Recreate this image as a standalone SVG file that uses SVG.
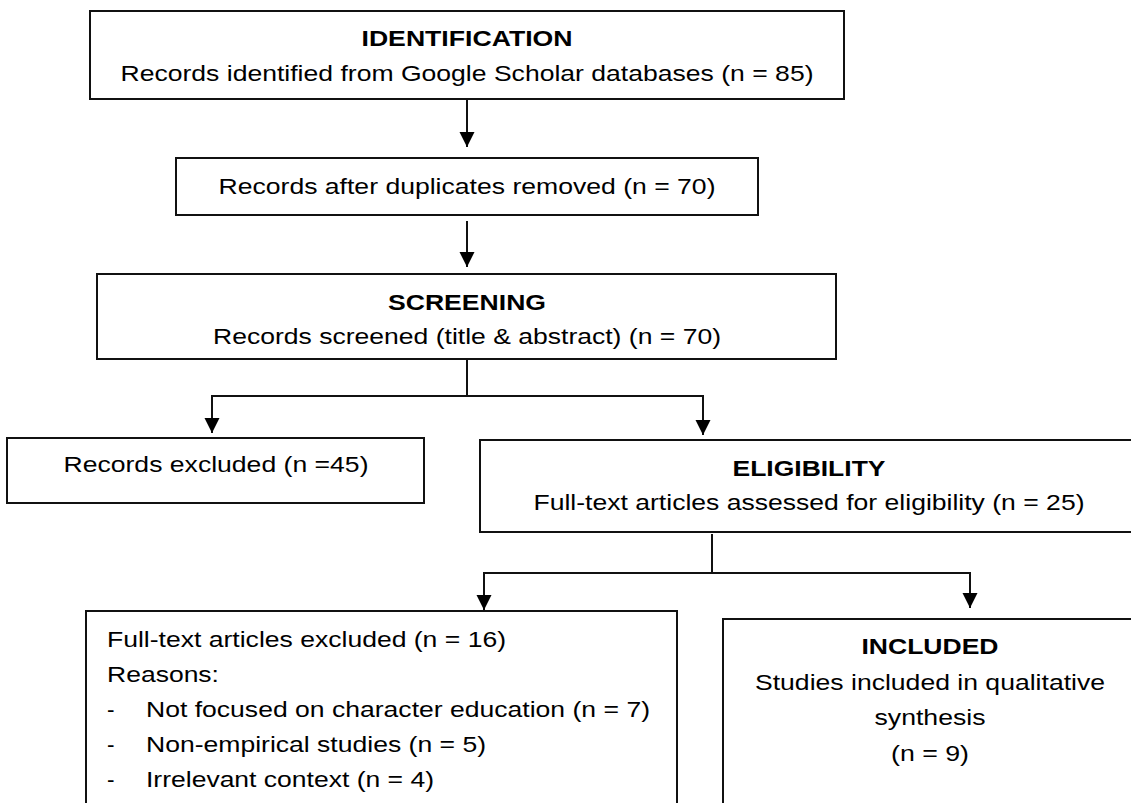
<svg xmlns="http://www.w3.org/2000/svg" width="1131" height="803" viewBox="0 0 1131 803">
<style>
.box{fill:#fff;stroke:#111;stroke-width:2}
.t{font-family:"Liberation Sans",Arial,sans-serif;font-size:22.5px;fill:#000}
.b{font-weight:bold}
.c{text-anchor:middle}
.con{fill:none;stroke:#111;stroke-width:2}
</style>
<defs>
<marker id="ah" markerUnits="userSpaceOnUse" markerWidth="16" markerHeight="16" refX="15" refY="7.5" orient="auto">
<path d="M0,0 L15,7.5 L0,15 z" fill="#000"/>
</marker>
</defs>
<rect width="1131" height="803" fill="#fff"/>
<g id="connectors">
<path class="con" d="M467,100 V147" marker-end="url(#ah)"/>
<path class="con" d="M467,221 V267" marker-end="url(#ah)"/>
<path class="con" d="M467,359 V396 M211,396 H704"/>
<path class="con" d="M212,396 V433" marker-end="url(#ah)"/>
<path class="con" d="M703,396 V435" marker-end="url(#ah)"/>
<path class="con" d="M712,534 V573 M483,573 H971"/>
<path class="con" d="M484,573 V610" marker-end="url(#ah)"/>
<path class="con" d="M970,573 V608" marker-end="url(#ah)"/>
</g>
<g id="identification">
<rect class="box" x="90" y="11" width="754" height="88"/>
<text class="t b c" x="467" y="46" textLength="211" lengthAdjust="spacingAndGlyphs">IDENTIFICATION</text>
<text class="t c" x="467" y="81" textLength="693" lengthAdjust="spacingAndGlyphs">Records identified from Google Scholar databases (n = 85)</text>
</g>
<g id="duplicates">
<rect class="box" x="176" y="158" width="582" height="57"/>
<text class="t c" x="467" y="194" textLength="497" lengthAdjust="spacingAndGlyphs">Records after duplicates removed (n = 70)</text>
</g>
<g id="screening">
<rect class="box" x="97" y="274" width="739" height="85"/>
<text class="t b c" x="467" y="310" textLength="158" lengthAdjust="spacingAndGlyphs">SCREENING</text>
<text class="t c" x="467" y="344" textLength="508" lengthAdjust="spacingAndGlyphs">Records screened (title &amp; abstract) (n = 70)</text>
</g>
<g id="excluded">
<rect class="box" x="7" y="438" width="417" height="65"/>
<text class="t c" x="216" y="472" textLength="305" lengthAdjust="spacingAndGlyphs">Records excluded (n =45)</text>
</g>
<g id="eligibility">
<rect class="box" x="480" y="440" width="670" height="92"/>
<text class="t b c" x="809" y="476" textLength="153" lengthAdjust="spacingAndGlyphs">ELIGIBILITY</text>
<text class="t c" x="809" y="510" textLength="551" lengthAdjust="spacingAndGlyphs">Full-text articles assessed for eligibility (n = 25)</text>
</g>
<g id="fulltext-excluded">
<rect class="box" x="86" y="611" width="591" height="210"/>
<text class="t" x="107" y="647" textLength="399" lengthAdjust="spacingAndGlyphs">Full-text articles excluded (n = 16)</text>
<text class="t" x="107" y="682" textLength="112" lengthAdjust="spacingAndGlyphs">Reasons:</text>
<text class="t" x="107" y="717">-</text>
<text class="t" x="146" y="717" textLength="504" lengthAdjust="spacingAndGlyphs">Not focused on character education (n = 7)</text>
<text class="t" x="107" y="752">-</text>
<text class="t" x="146" y="752" textLength="340" lengthAdjust="spacingAndGlyphs">Non-empirical studies (n = 5)</text>
<text class="t" x="107" y="787">-</text>
<text class="t" x="146" y="787" textLength="288" lengthAdjust="spacingAndGlyphs">Irrelevant context (n = 4)</text>
</g>
<g id="included">
<rect class="box" x="723" y="619" width="430" height="210"/>
<text class="t b c" x="930" y="654" textLength="137" lengthAdjust="spacingAndGlyphs">INCLUDED</text>
<text class="t c" x="930" y="690" textLength="350" lengthAdjust="spacingAndGlyphs">Studies included in qualitative</text>
<text class="t c" x="930" y="725" textLength="111" lengthAdjust="spacingAndGlyphs">synthesis</text>
<text class="t c" x="930" y="761" textLength="78" lengthAdjust="spacingAndGlyphs">(n = 9)</text>
</g>
</svg>
